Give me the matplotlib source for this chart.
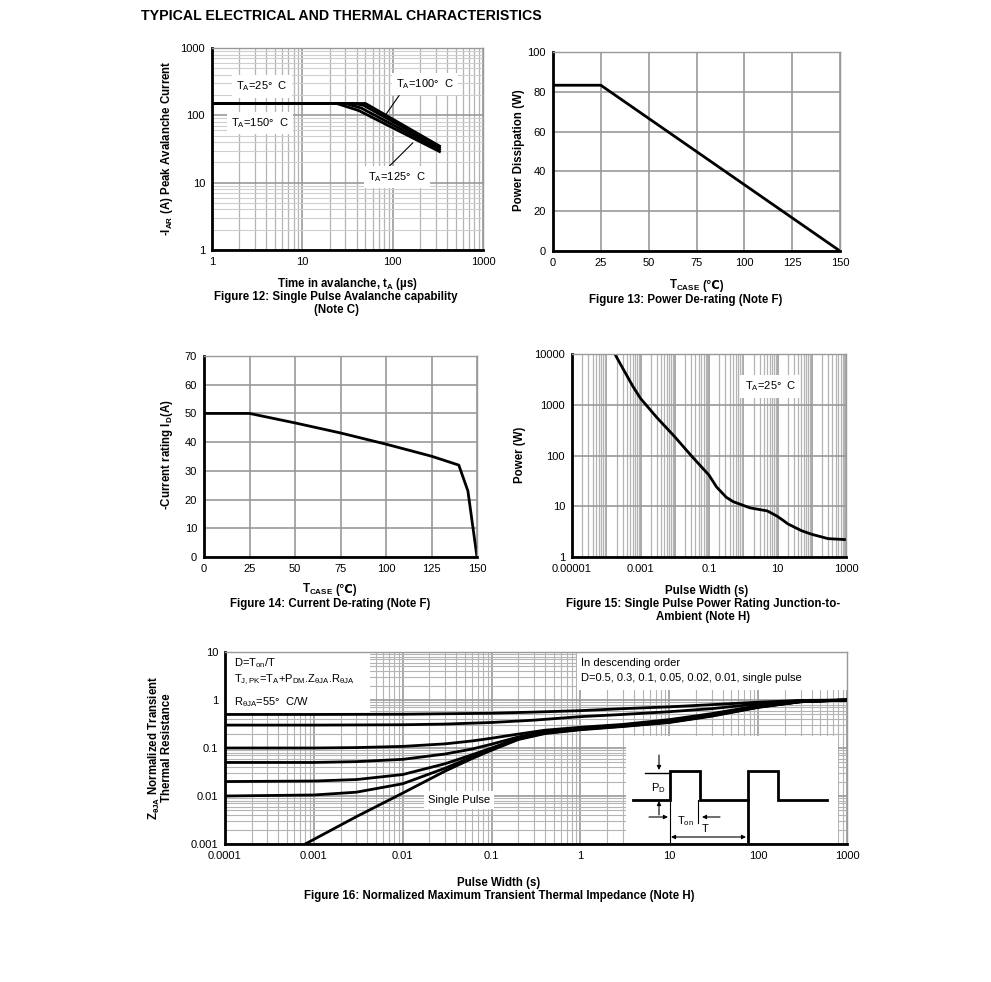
import numpy as np
import matplotlib
matplotlib.use('Agg')
import matplotlib.pyplot as plt
from matplotlib.patches import Rectangle
from matplotlib.ticker import LogLocator, NullFormatter

plt.rcParams['font.family'] = ['Liberation Sans', 'DejaVu Sans']
plt.rcParams['mathtext.default'] = 'regular'
plt.rcParams['font.size'] = 8

# ---- data ----
# Figure 12: avalanche current vs time (us)
t_25 = [1, 50, 330]
i_25 = [150, 150, 35]
t_100 = [1, 38, 48, 330]
i_100 = [150, 150, 140, 33]
t_125 = [1, 30, 45, 330]
i_125 = [150, 150, 128, 31]
t_150 = [1, 24, 42, 330]
i_150 = [150, 150, 118, 29]

# Figure 13: power de-rating
tcase_13 = [0, 25, 150]
pd_13 = [83.3, 83.3, 0]

# Figure 14: current de-rating
tcase_14 = [0, 25, 50, 75, 100, 125, 140, 145, 150]
id_14 = [50, 50, 46.7, 43.2, 39.3, 35.1, 32, 23, 0]

# Figure 15: single pulse power rating
pw_15 = [1.78e-4, 3e-4, 6e-4, 1e-3, 3e-3, 0.01, 0.03, 0.1, 0.166, 0.32, 0.51, 1.57,
         5, 7, 10, 15, 20, 50, 100, 300, 1000]
pwr_15 = [10000, 5300, 2300, 1333, 560, 234, 100, 41, 24, 15, 12.3, 9.3,
          8.1, 7.2, 6.3, 5.2, 4.5, 3.3, 2.8, 2.3, 2.2]

# Figure 16: normalized transient thermal impedance
t_d50 = [1e-4, 1e-3, 1e-2, 0.1, 0.3, 1, 3, 10, 30, 100, 300, 1000]
z_d50 = [0.5, 0.5, 0.505, 0.53, 0.56, 0.6, 0.66, 0.72, 0.8, 0.9, 0.98, 1.0]
t_d30 = [1e-4, 1e-3, 1e-2, 3e-2, 0.1, 0.3, 1, 3, 10, 30, 100, 300, 1000]
z_d30 = [0.3, 0.3, 0.305, 0.315, 0.34, 0.38, 0.45, 0.5, 0.57, 0.66, 0.83, 0.96, 1.0]
t_d10 = [1e-4, 1e-3, 3e-3, 1e-2, 3e-2, 6e-2, 0.1, 0.2, 0.4, 1, 3, 10, 30, 100, 300, 1000]
z_d10 = [0.1, 0.1, 0.102, 0.108, 0.122, 0.14, 0.16, 0.195, 0.235, 0.27, 0.31, 0.39, 0.52, 0.76, 0.94, 1.0]
t_d05 = [1e-4, 1e-3, 3e-3, 1e-2, 3e-2, 6e-2, 0.1, 0.2, 0.4, 1, 3, 10, 30, 100, 300, 1000]
z_d05 = [0.05, 0.05, 0.052, 0.058, 0.075, 0.095, 0.12, 0.17, 0.22, 0.26, 0.3, 0.37, 0.5, 0.74, 0.93, 1.0]
t_d02 = [1e-4, 1e-3, 3e-3, 1e-2, 3e-2, 6e-2, 0.1, 0.2, 0.4, 1, 3, 10, 30, 100, 300, 1000]
z_d02 = [0.02, 0.0205, 0.022, 0.028, 0.047, 0.072, 0.1, 0.16, 0.21, 0.25, 0.29, 0.35, 0.48, 0.72, 0.92, 1.0]
t_d01 = [1e-4, 1e-3, 3e-3, 1e-2, 3e-2, 6e-2, 0.1, 0.2, 0.4, 1, 3, 10, 30, 100, 300, 1000]
z_d01 = [0.01, 0.0105, 0.012, 0.018, 0.038, 0.065, 0.095, 0.155, 0.205, 0.245, 0.285, 0.345, 0.47, 0.71, 0.92, 1.0]
t_sp = [8e-4, 3e-3, 1e-2, 3e-2, 6e-2, 0.1, 0.2, 0.4, 1, 3, 10, 30, 100, 300, 1000]
z_sp = [0.001, 0.0037, 0.0115, 0.033, 0.06, 0.09, 0.15, 0.2, 0.24, 0.28, 0.34, 0.46, 0.7, 0.92, 1.0]

# inset pulse sketch (pixel units of the inset)
pulse_x = [633, 670, 670, 700, 700, 748, 748, 778, 778, 827]
pulse_y = [800, 800, 771, 771, 800, 800, 771, 771, 800, 800]

W, H = 991, 982
fig = plt.figure(figsize=(W / 100, H / 100), dpi=100)

MAJ = '#999999'
MIN = '#b4b4b4'
MIN_Y = '#cfcfcf'


def add_ax(l, t, r, b):
    return fig.add_axes([l / W, 1 - b / H, (r - l) / W, (b - t) / H])


def ftext(x, y, s, **kw):
    kw.setdefault('ha', 'center')
    kw.setdefault('va', 'center')
    fig.text(x / W, 1 - y / H, s, **kw)


def style(ax):
    for s in ['top', 'right']:
        ax.spines[s].set_color(MAJ)
        ax.spines[s].set_linewidth(1)
    for s in ['left', 'bottom']:
        ax.spines[s].set_color('black')
        ax.spines[s].set_linewidth(2)
    ax.tick_params(which='both', length=0, pad=5, labelsize=8)
    ax.set_axisbelow(True)


def log_minor(axis):
    axis.set_minor_locator(LogLocator(base=10, subs=np.arange(2, 10), numticks=50))
    axis.set_minor_formatter(NullFormatter())


LBL = dict(fontsize=8.3, fontweight='bold')

ftext(141, 16, 'TYPICAL ELECTRICAL AND THERMAL CHARACTERISTICS', ha='left',
      fontsize=10.2, fontweight='bold')

# ---------------- Figure 12 ----------------
ax = add_ax(212, 48, 483, 250)
style(ax)
ax.set_xscale('log')
ax.set_yscale('log')
ax.set_xlim(1, 1000)
ax.set_ylim(1, 1000)
ax.set_xticks([1, 10, 100, 1000], labels=['1', '10', '100', '1000'])
ax.set_yticks([1, 10, 100, 1000], labels=['1', '10', '100', '1000'])
log_minor(ax.xaxis)
log_minor(ax.yaxis)
ax.grid(True, which='major', color=MAJ, lw=1.2)
ax.grid(True, which='minor', axis='x', color=MIN, lw=0.9)
ax.grid(True, which='minor', axis='y', color=MIN_Y, lw=0.8)
for tt, ii in [(t_150, i_150), (t_125, i_125), (t_100, i_100), (t_25, i_25)]:
    ax.plot(tt, ii, color='black', lw=2, solid_joinstyle='miter')
box = dict(facecolor='white', edgecolor='none', pad=3)
ax.text(0.089, 0.81, 'T$_A$=25°  C', transform=ax.transAxes, va='center', bbox=box)
ax.text(0.07, 0.63, 'T$_A$=150°  C', transform=ax.transAxes, va='center', bbox=box)
ax.annotate('T$_A$=100°  C', xy=(82, 98), xytext=(0.68, 0.82), textcoords='axes fraction',
            va='center', bbox=box, arrowprops=dict(arrowstyle='-', color='black', lw=0.8,
                                                  shrinkA=0, shrinkB=0, relpos=(0.1, 0)))
ax.annotate('T$_A$=125°  C', xy=(167, 39), xytext=(0.575, 0.36), textcoords='axes fraction',
            va='center', bbox=box, arrowprops=dict(arrowstyle='-', color='black', lw=0.8,
                                                  shrinkA=0, shrinkB=0, relpos=(0.3, 1)))
ftext(167, 148, '-I$_{AR}$ (A) Peak Avalanche Current', rotation=90, **LBL)
ftext(347, 284, 'Time in avalanche, t$_A$ (µs)', **LBL)
ftext(336, 297, 'Figure 12: Single Pulse Avalanche capability', **LBL)
ftext(336, 310, '(Note C)', **LBL)

# ---------------- Figure 13 ----------------
ax = add_ax(553, 52, 840, 251)
style(ax)
ax.set_xlim(0, 150)
ax.set_ylim(0, 100)
ax.set_xticks(np.arange(0, 151, 25))
ax.set_yticks(np.arange(0, 101, 20))
ax.grid(True, color=MAJ, lw=1.2)
ax.plot(tcase_13, pd_13, color='black', lw=2)
ftext(519, 150, 'Power Dissipation (W)', rotation=90, **LBL)
ftext(700, 289, 'T$_{CASE}$', ha='right', va='baseline', **LBL)
ftext(702, 289, '(℃)', ha='left', va='baseline', **LBL)
ftext(686, 300, 'Figure 13: Power De-rating (Note F)', **LBL)

# ---------------- Figure 14 ----------------
ax = add_ax(204, 356, 477, 557)
style(ax)
ax.set_xlim(0, 150)
ax.set_ylim(0, 70)
ax.set_xticks(np.arange(0, 151, 25))
ax.set_yticks(np.arange(0, 71, 10))
ax.grid(True, color=MAJ, lw=1.2)
ax.plot(tcase_14, id_14, color='black', lw=2)
ftext(167, 455, '-Current rating I$_D$(A)', rotation=90, **LBL)
ftext(333, 593, 'T$_{CASE}$', ha='right', va='baseline', **LBL)
ftext(335, 593, '(℃)', ha='left', va='baseline', **LBL)
ftext(330, 604, 'Figure 14: Current De-rating (Note F)', **LBL)

# ---------------- Figure 15 ----------------
ax = add_ax(572, 354, 846, 557)
style(ax)
ax.set_xscale('log')
ax.set_yscale('log')
ax.set_xlim(1e-5, 1000)
ax.set_ylim(1, 10000)
xdec = [10.0 ** k for k in range(-5, 4)]
ax.set_xticks(xdec, labels=['0.00001', '', '0.001', '', '0.1', '', '10', '', '1000'])
ax.set_yticks([1, 10, 100, 1000, 10000], labels=['1', '10', '100', '1000', '10000'])
log_minor(ax.xaxis)
ax.yaxis.set_minor_locator(plt.NullLocator())
ax.grid(True, which='major', color=MAJ, lw=1.2)
ax.grid(True, which='minor', axis='x', color=MIN, lw=0.9)
ax.plot(pw_15, pwr_15, color='black', lw=2)
ax.text(0.63, 0.84, 'T$_A$=25°  C', transform=ax.transAxes, va='center', bbox=box)
ftext(520, 455, 'Power (W)', rotation=90, **LBL)
ftext(707, 591, 'Pulse Width (s)', **LBL)
ftext(703, 604, 'Figure 15: Single Pulse Power Rating Junction-to-', **LBL)
ftext(703, 617, 'Ambient (Note H)', **LBL)

# ---------------- Figure 16 ----------------
ax = add_ax(225, 652, 847, 844)
style(ax)
ax.set_xscale('log')
ax.set_yscale('log')
ax.set_xlim(1e-4, 1000)
ax.set_ylim(1e-3, 10)
ax.set_xticks([10.0 ** k for k in range(-4, 4)],
              labels=['0.0001', '0.001', '0.01', '0.1', '1', '10', '100', '1000'])
ax.set_yticks([0.001, 0.01, 0.1, 1, 10], labels=['0.001', '0.01', '0.1', '1', '10'])
log_minor(ax.xaxis)
log_minor(ax.yaxis)
ax.grid(True, which='major', color=MAJ, lw=1.2)
ax.grid(True, which='minor', color=MIN, lw=0.8)
for tt, zz in [(t_d50, z_d50), (t_d30, z_d30), (t_d10, z_d10), (t_d05, z_d05),
               (t_d02, z_d02), (t_d01, z_d01), (t_sp, z_sp)]:
    ax.plot(tt, zz, color='black', lw=2, zorder=3)
ax.add_patch(Rectangle((0, 0.682), 0.233, 0.318, transform=ax.transAxes,
                       facecolor='white', edgecolor='none', zorder=1.5))
ax.add_patch(Rectangle((0.566, 0.80), 0.434, 0.20, transform=ax.transAxes,
                       facecolor='white', edgecolor='none', zorder=1.5))
ftext(234, 663, 'D=T$_{on}$/T', ha='left')
ftext(234, 680, 'T$_{J,PK}$=T$_A$+P$_{DM}$.Z$_{θJA}$.R$_{θJA}$', ha='left')
ftext(234, 702, 'R$_{θJA}$=55°  C/W', ha='left')
ftext(581, 663, 'In descending order', ha='left')
ftext(581, 678, 'D=0.5, 0.3, 0.1, 0.05, 0.02, 0.01, single pulse', ha='left')
ax.text(0.326, 0.229, 'Single Pulse', transform=ax.transAxes, va='center', bbox=box, zorder=2)
ftext(160, 748, 'Z$_{θJA}$ Normalized Transient\nThermal Resistance', rotation=90,
      linespacing=0.95, **LBL)
ftext(499, 883, 'Pulse Width (s)', **LBL)
ftext(499, 896, 'Figure 16: Normalized Maximum Transient Thermal Impedance (Note H)', **LBL)

# inset pulse diagram
ins = add_ax(626, 736, 838, 843)
ins.set_xlim(626, 838)
ins.set_ylim(843, 736)
ins.axis('off')
ins.add_patch(Rectangle((626, 736), 212, 107, facecolor='white', edgecolor='none'))
ins.plot(pulse_x, pulse_y, color='black', lw=2, solid_joinstyle='miter')
ins.plot([645, 670], [773, 773], color='black', lw=1)
ins.plot([670, 670], [800, 843], color='black', lw=0.8)
ins.plot([748, 748], [800, 843], color='black', lw=2)
ins.plot([698, 698], [800, 823], color='black', lw=0.8)
arw = dict(arrowstyle='-|>', color='black', lw=0.8, mutation_scale=6, shrinkA=0, shrinkB=0)
ins.annotate('', xy=(659, 770), xytext=(659, 755), arrowprops=arw)
ins.annotate('', xy=(659, 801), xytext=(659, 815), arrowprops=arw)
ins.annotate('', xy=(668, 817), xytext=(649, 817), arrowprops=arw)
ins.annotate('', xy=(702, 817), xytext=(720, 817), arrowprops=arw)
ins.annotate('', xy=(746, 837), xytext=(671, 837),
             arrowprops=dict(arrowstyle='<|-|>', color='black', lw=0.8, mutation_scale=6,
                             shrinkA=0, shrinkB=0))
ins.text(651, 788, 'P$_D$', va='center', ha='left')
ins.text(677, 821, 'T$_{on}$', va='center', ha='left')
ins.text(705, 829, 'T', va='center', ha='center')

fig.savefig('out.png', dpi=100)
